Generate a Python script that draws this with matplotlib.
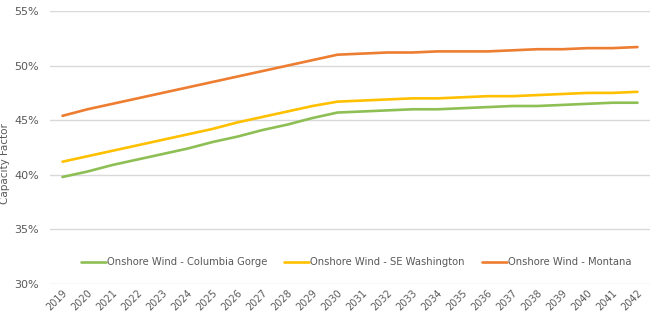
import matplotlib
matplotlib.use("Agg")
import matplotlib.pyplot as plt
from matplotlib.ticker import PercentFormatter

# capacity factor projections by year
years = [str(y) for y in range(2019, 2043)]
columbia_gorge = [39.8, 40.3, 40.9, 41.4, 41.9, 42.4, 43.0, 43.5, 44.1, 44.6, 45.2, 45.7,
                  45.8, 45.9, 46.0, 46.0, 46.1, 46.2, 46.3, 46.3, 46.4, 46.5, 46.6, 46.6]
se_washington = [41.2, 41.7, 42.2, 42.7, 43.2, 43.7, 44.2, 44.8, 45.3, 45.8, 46.3, 46.7,
                 46.8, 46.9, 47.0, 47.0, 47.1, 47.2, 47.2, 47.3, 47.4, 47.5, 47.5, 47.6]
montana = [45.4, 46.0, 46.5, 47.0, 47.5, 48.0, 48.5, 49.0, 49.5, 50.0, 50.5, 51.0,
           51.1, 51.2, 51.2, 51.3, 51.3, 51.3, 51.4, 51.5, 51.5, 51.6, 51.6, 51.7]

series = [
    ("Onshore Wind - Columbia Gorge", columbia_gorge, "#8dbf55"),
    ("Onshore Wind - SE Washington", se_washington, "#ffc000"),
    ("Onshore Wind - Montana", montana, "#ed7d31"),
]

txt = "#595959"
fig = plt.figure(figsize=(6.53, 3.27), dpi=100)
ax = fig.add_axes([50 / 653, 1 - 284 / 327, 600 / 653, 273 / 327])

x = list(range(len(years)))
for name, vals, col in series:
    ax.plot(x, vals, color=col, lw=1.9, label=name, solid_capstyle="round")

ax.set_xlim(-0.5, len(years) - 0.5)
ax.set_ylim(30, 55)
ax.set_yticks([30, 35, 40, 45, 50, 55])
ax.yaxis.set_major_formatter(PercentFormatter(decimals=0))
ax.set_xticks(x)
ax.set_xticklabels(years, rotation=45, ha="right", rotation_mode="anchor")
ax.tick_params(axis="x", labelsize=7, colors=txt, length=0, pad=3)
ax.tick_params(axis="y", labelsize=8, colors=txt, length=0, pad=8)
ax.grid(axis="y", color="#d9d9d9", lw=1)
ax.set_axisbelow(True)
for s in ax.spines.values():
    s.set_visible(False)

ax.set_ylabel("Capacity Factor", fontsize=7.5, color=txt)
ax.yaxis.set_label_coords(-0.066, 0.44)

leg = ax.legend(loc="center", bbox_to_anchor=(0.51, 0.08), ncol=3, frameon=False,
                fontsize=7.2, handlelength=2.5, handletextpad=0.1, columnspacing=1.7)
for t in leg.get_texts():
    t.set_color(txt)

fig.savefig("out.png", dpi=100)
